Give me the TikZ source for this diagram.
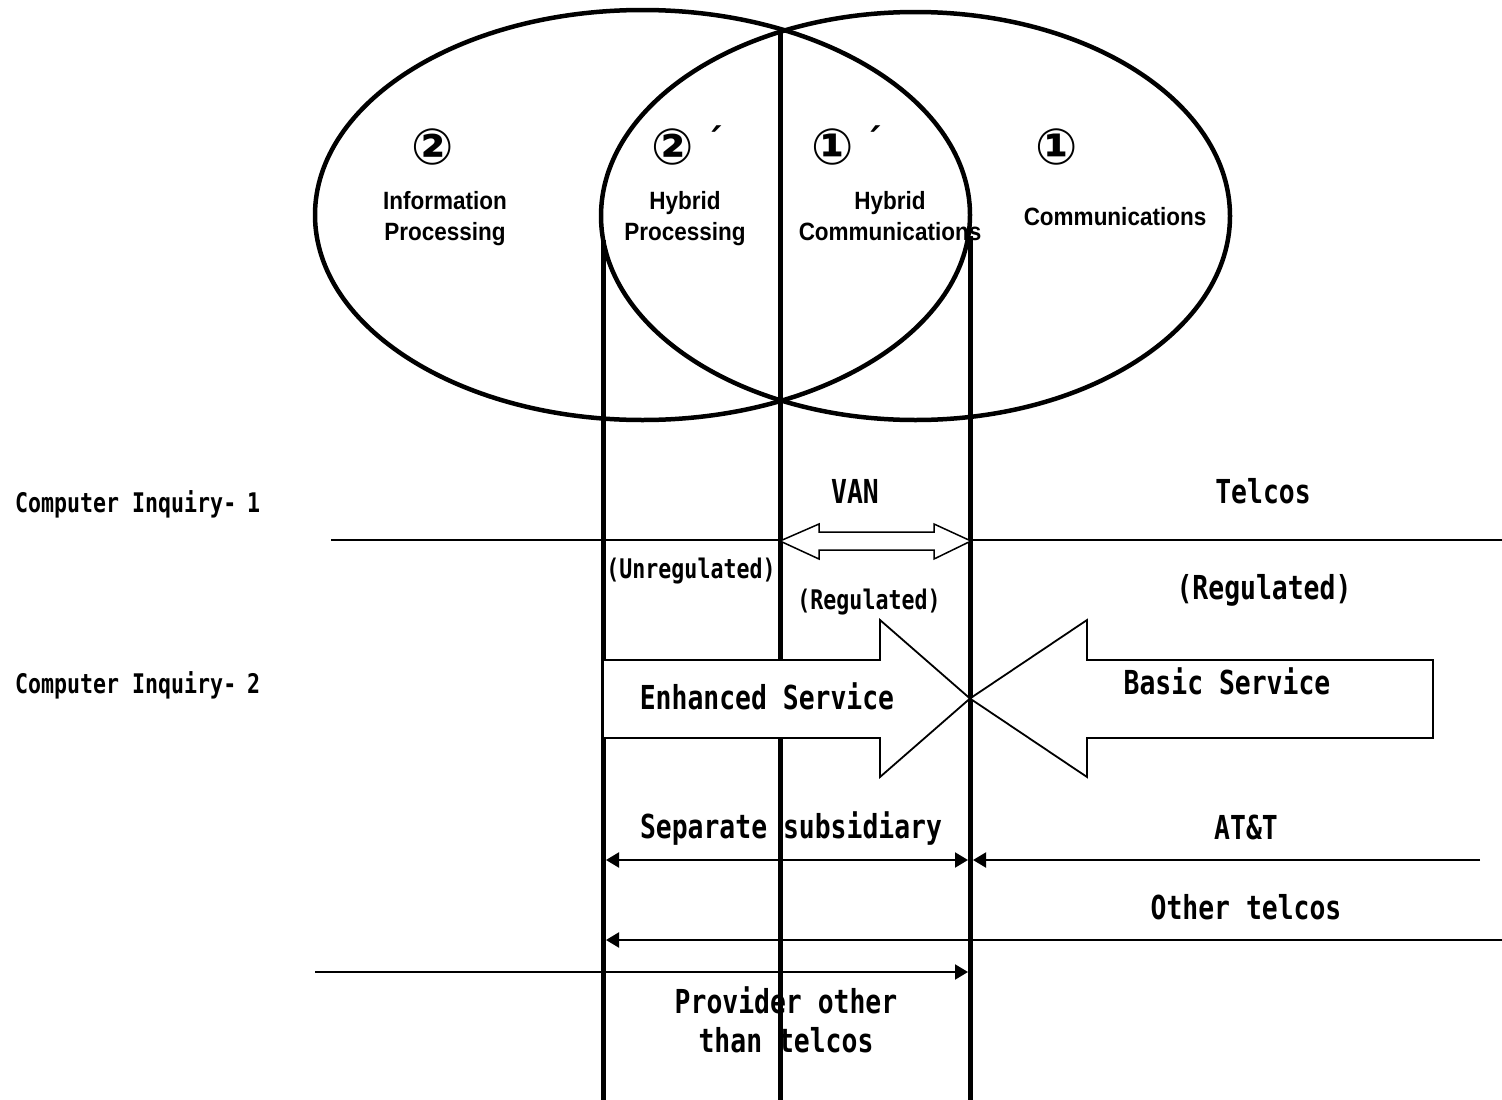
\documentclass[tikz,border=0pt]{standalone}
\usepackage{fontspec}
\setmainfont{Liberation Sans}
\newfontfamily\gothic[FakeStretch=0.8]{DejaVu Sans Mono Bold}
\newfontfamily\symfont{DejaVu Sans Bold}
\newfontfamily\labfont[FakeStretch=0.9]{Liberation Sans Bold}
\usetikzlibrary{arrows.meta,shapes.geometric}
\begin{document}
\begin{tikzpicture}[x=1pt,y=-1pt,
  oval/.style={draw,ellipse,line width=4.5pt,inner sep=0},
  lab/.style={font=\labfont\fontsize{25}{31}\selectfont,align=center,inner sep=0,anchor=base},
  num/.style={font=\symfont\fontsize{50}{50}\selectfont,inner sep=0},
  acc/.style={font=\symfont\fontsize{36}{36}\selectfont,inner sep=0},
  gs/.style={font=\gothic\fontsize{27}{32}\selectfont,inner sep=0,anchor=base},
  gl/.style={font=\gothic\fontsize{33}{39}\selectfont,inner sep=0,anchor=base,align=center},
  bar/.style={line width=5pt},
  thinline/.style={line width=2pt},
  tri/.tip={Triangle[length=13pt,width=15pt]},
  bigarrow/.style={draw,fill=white,line width=1.8pt,line join=miter}
]
\useasboundingbox (0,0) rectangle (1502,1100);
\fill[white] (0,0) rectangle (1502,1100);

% ellipses
\node[oval,minimum width=655pt,minimum height=410pt] (infoE) at (642.5,215) {};
\node[oval,minimum width=629pt,minimum height=408pt] (commE) at (915.5,216) {};

% circled numbers
\node[num] (n2) at (433,147) {②};
\node[num] (n2p) at (673,147) {②};
\node[acc] (n2a) at (714,140) {´};
\node[num] (n1p) at (833,147) {①};
\node[acc] (n1a) at (873,140) {´};
\node[num] (n1) at (1057,147) {①};

% area labels
\node[lab] (info) at (445,240) {Information\\Processing};
\node[lab] (hproc) at (685,240) {Hybrid\\Processing};
\node[lab] (hcomm) at (890,240) {Hybrid\\Communications};
\node[lab] (comm) at (1115,225) {Communications};

% left labels
\node[gs,anchor=base west] (ci1) at (15,512) {Computer Inquiry-{\kern11pt}1};
\node[gs,anchor=base west] (ci2) at (15,693) {Computer Inquiry-{\kern11pt}2};

% texts
\node[gl] (van) at (855,503) {VAN};
\node[gl] (telcos) at (1263,503) {Telcos};
\node[gs] (unreg) at (691,578) {(Unregulated)};
\node[gs] (reg1) at (869,609) {(Regulated)};
\node[gl] (reg2) at (1264,599) {(Regulated)};
\node[gl] (sep) at (791,838) {Separate subsidiary};
\node[gl] (att) at (1246,839) {AT\&T};
\node[gl] (oth) at (1246,919) {Other telcos};
\node[gl] (prov) at (786,1052) {Provider other\\ than telcos};

% coordinates
\coordinate (v1t) at (603,240);  \coordinate (v1b) at (603,1100);
\coordinate (v2t) at (780,30);   \coordinate (v2b) at (780,1100);
\coordinate (v3t) at (970,236);  \coordinate (v3b) at (970,1100);
\coordinate (h1a) at (331,540);  \coordinate (h1b) at (1502,540);
\coordinate (sepL) at (606,860); \coordinate (sepR) at (968,860);
\coordinate (attR) at (1480,860); \coordinate (attL) at (973,860);
\coordinate (othR) at (1502,940); \coordinate (othL) at (606,940);
\coordinate (provL) at (315,972); \coordinate (provR) at (968,972);

% vertical bars
\draw[bar] (v1t) -- (v1b);
\draw[bar] (v2t) -- (v2b);
\draw[bar] (v3t) -- (v3b);

% horizontal lines
\draw[thinline] (h1a) -- (h1b);
\draw[thinline,tri-tri] (sepL) -- (sepR);
\draw[thinline,-tri] (attR) -- (attL);
\draw[thinline,-tri] (othR) -- (othL);
\draw[thinline,-tri] (provL) -- (provR);

% VAN double arrow
\draw[bigarrow,line width=1.5pt] (780,541) -- (819,524) -- (819,532) -- (934,532) -- (934,524)
  -- (971,541) -- (934,559) -- (934,550) -- (819,550) -- (819,559) -- cycle;

% big arrows
\draw[bigarrow] (603,660) -- (880,660) -- (880,620) -- (970,698.5) -- (880,777) -- (880,738) -- (603,738) -- cycle;
\draw[bigarrow] (1433,660) -- (1087,660) -- (1087,620) -- (970,698.5) -- (1087,777) -- (1087,738) -- (1433,738) -- cycle;
\node[gl] (enh) at (767,709) {Enhanced Service};
\node[gl] (basic) at (1227,694) {Basic Service};
\end{tikzpicture}
\end{document}
